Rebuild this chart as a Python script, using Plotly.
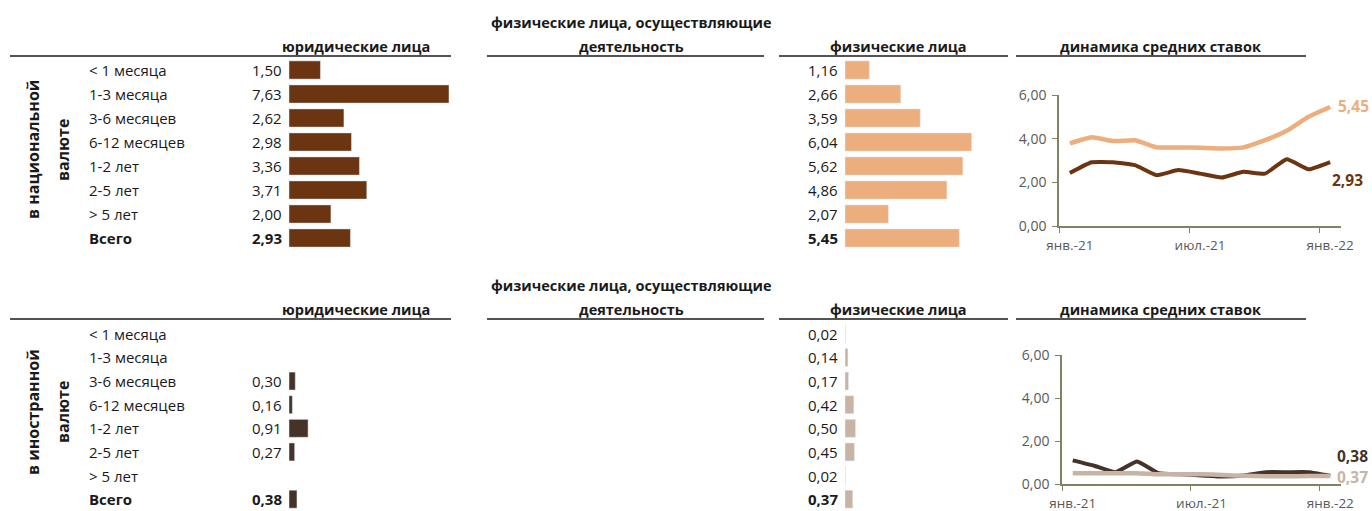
import plotly.graph_objects as go

W, H = 1372, 511

terms = ["< 1 месяца", "1-3 месяца", "3-6 месяцев", "6-12 месяцев",
         "1-2 лет", "2-5 лет", "> 5 лет", "Всего"]
nat_legal = [1.50, 7.63, 2.62, 2.98, 3.36, 3.71, 2.00, 2.93]
nat_phys = [1.16, 2.66, 3.59, 6.04, 5.62, 4.86, 2.07, 5.45]
for_legal = [None, None, 0.30, 0.16, 0.91, 0.27, None, 0.38]
for_phys = [0.02, 0.14, 0.17, 0.42, 0.50, 0.45, 0.02, 0.37]

months = ["янв.-21", "фев.-21", "мар.-21", "апр.-21", "май.-21", "июн.-21",
          "июл.-21", "авг.-21", "сен.-21", "окт.-21", "ноя.-21", "дек.-21", "янв.-22"]
nat_legal_dyn = [2.43, 2.92, 2.92, 2.79, 2.33, 2.56, 2.40, 2.22, 2.48, 2.40, 3.06, 2.60, 2.93]
nat_phys_dyn = [3.78, 4.06, 3.89, 3.93, 3.60, 3.60, 3.58, 3.55, 3.60, 3.93, 4.36, 5.00, 5.45]
for_legal_dyn = [1.10, 0.85, 0.55, 1.05, 0.50, 0.45, 0.40, 0.35, 0.40, 0.55, 0.55, 0.55, 0.38]
for_phys_dyn = [0.50, 0.50, 0.50, 0.50, 0.45, 0.45, 0.45, 0.42, 0.38, 0.36, 0.36, 0.37, 0.37]

section_titles = ["в национальной", "в иностранной"]
hdr_legal = "юридические лица"
hdr_ent = ["физические лица, осуществляющие", "деятельность"]
hdr_phys = "физические лица"
hdr_dyn = "динамика средних ставок"

C_NAT_LEGAL = "#6B3512"
C_NAT_PHYS = "#EDAE7E"
C_FOR_LEGAL = "#45332A"
C_FOR_PHYS = "#C8B4A4"
AXC = "#7E8462"
FONT = "Open Sans"
TXT = "#1a1a1a"


def X(px):
    return px / W


def Y(py):
    return 1 - py / H


def fmt(v):
    return f"{v:.2f}".replace(".", ",")


PXU = 20.97  # pixels per unit for bars

fig = go.Figure()

panels = [
    dict(legal=nat_legal, phys=nat_phys, cl=C_NAT_LEGAL, cp=C_NAT_PHYS, top=58, bot=250,
         hy=46, ly=56, dynl=nat_legal_dyn, dynp=nat_phys_dyn, title=section_titles[0],
         tmid=150),
    dict(legal=for_legal, phys=for_phys, cl=C_FOR_LEGAL, cp=C_FOR_PHYS, top=322, bot=511,
         hy=309, ly=319, dynl=for_legal_dyn, dynp=for_phys_dyn, title=section_titles[1],
         tmid=412),
]

annotations = []
shapes = []
layout_axes = {}

for pi, p in enumerate(panels):
    a_leg = 1 + pi * 2
    a_phy = 2 + pi * 2
    leg_x0, leg_x1 = 289, 470
    phy_x0, phy_x1 = 845, 1005
    for ax, vals, col, x0, x1 in [(a_leg, p["legal"], p["cl"], leg_x0, leg_x1),
                                  (a_phy, p["phys"], p["cp"], phy_x0, phy_x1)]:
        sfx = "" if ax == 1 else str(ax)
        fig.add_trace(go.Bar(
            x=vals, y=terms, orientation="h", marker_color=col, width=0.76,
            xaxis="x" + sfx, yaxis="y" + sfx, hoverinfo="skip", showlegend=False))
        layout_axes["xaxis" + sfx] = dict(domain=[X(x0), X(x1)], range=[0, (x1 - x0) / PXU],
                                          visible=False, anchor="y" + sfx, fixedrange=True,
                                          automargin=False)
        layout_axes["yaxis" + sfx] = dict(domain=[Y(p["bot"]), Y(p["top"])], type="category",
                                          categoryorder="array", categoryarray=terms,
                                          range=[7.5, -0.5], visible=False, anchor="x" + sfx,
                                          automargin=False)
        for t, v in zip(terms, vals):
            if v is None:
                continue
            label = ("<b>" + fmt(v) + "</b>") if t == "Всего" else fmt(v)
            annotations.append(dict(
                x=X(x0 - 5), xref="paper", y=t, yref="y" + sfx, text=label,
                showarrow=False, xanchor="right", yanchor="middle",
                font=dict(family=FONT, size=15, color=TXT)))
    sfx = "" if a_leg == 1 else str(a_leg)
    for t in terms:
        annotations.append(dict(
            x=X(87), xref="paper", y=t, yref="y" + sfx,
            text=("<b>" + t + "</b>") if t == "Всего" else t,
            showarrow=False, xanchor="left", yanchor="middle",
            font=dict(family=FONT, size=15, color=TXT)))
    mid = p["tmid"]
    annotations.append(dict(x=X(33), y=Y(mid), xref="paper", yref="paper",
                            text="<b>" + p["title"] + "</b>", textangle=-90, showarrow=False,
                            xanchor="center", yanchor="middle",
                            font=dict(family=FONT, size=16, color=TXT)))
    annotations.append(dict(x=X(63), y=Y(mid), xref="paper", yref="paper",
                            text="<b>валюте</b>", textangle=-90, showarrow=False,
                            xanchor="center", yanchor="middle",
                            font=dict(family=FONT, size=16, color=TXT)))
    hy = p["hy"]
    for txt, cx in [(hdr_legal, 356), (hdr_phys, 898), (hdr_dyn, 1160)]:
        annotations.append(dict(x=X(cx), y=Y(hy), xref="paper", yref="paper",
                                text="<b>" + txt + "</b>", showarrow=False,
                                xanchor="center", yanchor="middle",
                                font=dict(family=FONT, size=14.5, color=TXT)))
    for k, line in enumerate(hdr_ent):
        annotations.append(dict(x=X(631), y=Y(hy - 23.5 + 23.5 * k), xref="paper", yref="paper",
                                text="<b>" + line + "</b>", showarrow=False,
                                xanchor="center", yanchor="middle",
                                font=dict(family=FONT, size=14.5, color=TXT)))
    ly = p["ly"]
    for x0, x1 in [(10, 451), (487, 764), (779, 1008), (1016, 1306)]:
        shapes.append(dict(type="line", xref="paper", yref="paper", x0=X(x0), x1=X(x1),
                           y0=Y(ly), y1=Y(ly), line=dict(color="#1a1a1a", width=1.5)))

    la = 5 + pi
    sfx = str(la)
    if pi == 0:
        xd0, xd1, yt, yb = 1059, 1341, 95, 226
    else:
        xd0, xd1, yt, yb = 1062, 1341, 355, 484
    fig.add_trace(go.Scatter(x=months, y=p["dynl"], mode="lines", xaxis="x" + sfx, yaxis="y" + sfx,
                             line=dict(color=p["cl"], width=4, shape="spline", smoothing=0.4),
                             hoverinfo="skip", showlegend=False))
    fig.add_trace(go.Scatter(x=months, y=p["dynp"], mode="lines", xaxis="x" + sfx, yaxis="y" + sfx,
                             line=dict(color=p["cp"], width=4.5, shape="spline", smoothing=0.4),
                             hoverinfo="skip", showlegend=False))
    layout_axes["xaxis" + sfx] = dict(
        domain=[X(xd0), X(xd1)], anchor="y" + sfx, type="category", categoryorder="array",
        categoryarray=months, range=[-0.5, 12.5], tickmode="linear", tick0=0, dtick=6,
        tickson="boundaries", ticks="outside", ticklen=5, tickcolor=AXC, showline=True,
        linecolor=AXC, linewidth=1.5, showgrid=False, zeroline=False, tickangle=0,
        automargin=False, ticklabelstandoff=6,
        tickfont=dict(family=FONT, size=13.5, color="#595959"), fixedrange=True)
    layout_axes["yaxis" + sfx] = dict(
        domain=[Y(yb), Y(yt)], anchor="x" + sfx, range=[0, 6], tickvals=[0, 2, 4, 6],
        ticktext=[fmt(v) for v in [0, 2, 4, 6]], ticks="outside", ticklen=5, tickcolor=AXC,
        showline=True, linecolor=AXC, linewidth=1.5, showgrid=False, zeroline=False,
        automargin=False, ticklabelstandoff=3,
        tickfont=dict(family=FONT, size=14, color="#595959"), fixedrange=True)
    if pi == 0:
        end_specs = [(p["dynp"], p["cp"], 6, 1), (p["dynl"], p["cl"], 0, -18)]
    else:
        end_specs = [(p["dynl"], p["cl"], 5, 20), (p["dynp"], p["cp"], 5, -1)]
    for series, col, xs, ys in end_specs:
        annotations.append(dict(x=months[-1], y=series[-1], xref="x" + sfx, yref="y" + sfx,
                                text="<b>" + fmt(series[-1]) + "</b>", showarrow=False,
                                xanchor="left", yanchor="middle", xshift=xs, yshift=ys,
                                font=dict(family=FONT, size=15.5, color=col)))

fig.update_layout(
    width=W, height=H, margin=dict(l=0, r=0, t=0, b=0, autoexpand=False),
    paper_bgcolor="white", plot_bgcolor="rgba(0,0,0,0)",
    showlegend=False, bargap=0.2,
    annotations=annotations, shapes=shapes,
    font=dict(family=FONT, size=15, color=TXT),
    **layout_axes)

fig.write_html("out.html", config={"displayModeBar": False},
               post_script="document.body.style.margin='0';document.body.style.overflow='hidden';")
